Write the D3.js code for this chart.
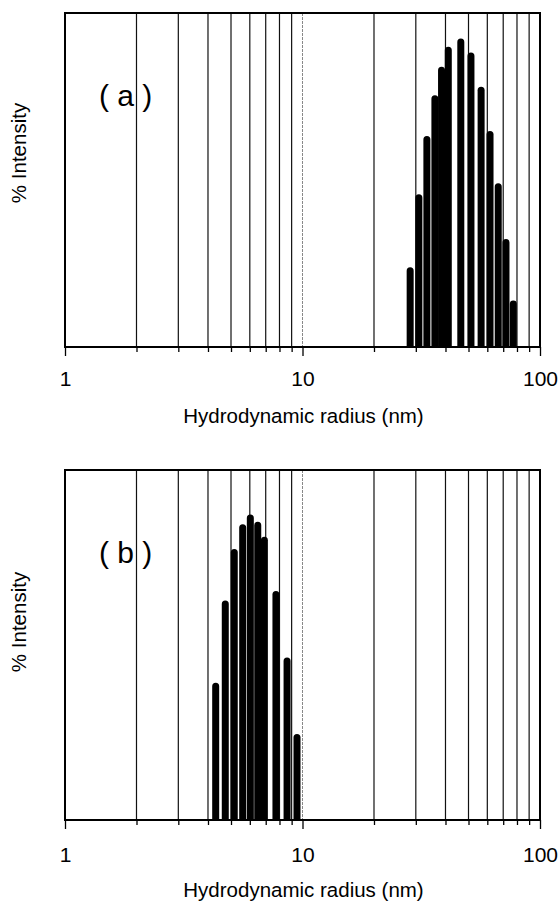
<!DOCTYPE html>
<html>
<head>
<meta charset="utf-8">
<script src="https://cdn.jsdelivr.net/npm/d3@7"></script>
<style>
  html, body { margin: 0; padding: 0; background: #fff; }
  svg { display: block; }
  text { font-family: "Liberation Sans", Arial, Helvetica, sans-serif; fill: #000; }
</style>
</head>
<body>
<svg id="chart" width="560" height="902"></svg>
<script>
// ---- data ----
const radiusA = [28.4, 30.9, 33.4, 36.1, 38.5, 41.1, 46.4, 51.2, 56.5, 61.6, 66.7, 71.9, 77.2];
const intensityA = [23.9, 45.7, 63.2, 75.4, 83.9, 89.9, 92.4, 88.2, 77.9, 64.7, 49.0, 32.3, 13.9];
const radiusB = [4.31, 4.73, 5.16, 5.60, 6.03, 6.48, 6.91, 7.73, 8.61, 9.48];
const intensityB = [39.2, 62.7, 77.4, 84.5, 87.3, 85.2, 80.9, 65.4, 46.4, 24.6];
const majorTicks = [1, 10, 100];
const majorLabels = ["1", "10", "100"];
const gridValues = [2, 3, 4, 5, 6, 7, 8, 9, 20, 30, 40, 50, 60, 70, 80, 90];
const panelLabels = ["( a )", "( b )"];
const xTitle = "Hydrodynamic radius (nm)";
const yTitle = "% Intensity";

const svg = d3.select("#chart");
const x = d3.scaleLog().domain([1, 100]).range([65, 540]);

const panels = [
  { top: 13, bottom: 347, radius: radiusA, intensity: intensityA, label: panelLabels[0], labelY: 106, yTitleY: 153 },
  { top: 470, bottom: 820, radius: radiusB, intensity: intensityB, label: panelLabels[1], labelY: 563, yTitleY: 622 }
];

const barW = 7;

panels.forEach((p, i) => {
  const y = d3.scaleLinear().domain([0, 100]).range([p.bottom, p.top]);
  const g = svg.append("g");

  // gridlines
  g.selectAll("line.grid").data(gridValues).join("line")
    .attr("x1", d => x(d)).attr("x2", d => x(d))
    .attr("y1", p.top).attr("y2", p.bottom)
    .attr("stroke", "#111").attr("stroke-width", 1.2);
  // line at 10 (lighter)
  g.append("line")
    .attr("x1", x(10)).attr("x2", x(10))
    .attr("y1", p.top).attr("y2", p.bottom)
    .attr("stroke", "#888").attr("stroke-width", 1)
    .attr("stroke-dasharray", "3,1");

  // bars with rounded tops
  const data = p.radius.map((r, k) => ({ r, v: p.intensity[k] }));
  g.selectAll("path.bar").data(data).join("path")
    .attr("d", d => {
      const cx = x(d.r), yt = y(d.v), yb = y(0), h = barW / 2;
      return `M${cx - h},${yb} L${cx - h},${yt + h} A${h},${h} 0 0 1 ${cx + h},${yt + h} L${cx + h},${yb} Z`;
    })
    .attr("fill", "#000");

  // frame
  g.append("rect")
    .attr("x", x(1)).attr("y", p.top)
    .attr("width", x(100) - x(1)).attr("height", p.bottom - p.top)
    .attr("fill", "none").attr("stroke", "#000").attr("stroke-width", 2);

  // x axis ticks (outward)
  const axis = d3.axisBottom(x)
    .tickValues(majorTicks.concat(gridValues))
    .tickFormat(d => { const k = majorTicks.indexOf(d); return k >= 0 ? majorLabels[k] : ""; })
    .tickSizeOuter(0);
  const ax = svg.append("g").attr("transform", `translate(0,${p.bottom})`).call(axis);
  ax.select(".domain").remove();
  ax.selectAll(".tick line")
    .attr("stroke", "#000").attr("stroke-width", 1.3)
    .attr("y2", d => majorTicks.includes(d) ? 9 : 5);
  ax.selectAll(".tick text")
    .attr("y", i === 0 ? 24 : 27)
    .attr("dy", "0.71em")
    .style("font-size", "21px")
    .style("font-family", "'Liberation Sans', Arial, sans-serif")
    .attr("fill", "#000");

  // x title
  svg.append("text")
    .attr("x", (x(1) + x(100)) / 2 + 1)
    .attr("y", p.bottom + (i === 0 ? 76 : 77))
    .attr("text-anchor", "middle")
    .style("font-size", "20.5px")
    .text(xTitle);

  // y title
  svg.append("text")
    .attr("transform", `translate(26,${p.yTitleY}) rotate(-90)`)
    .attr("text-anchor", "middle")
    .style("font-size", "20.5px")
    .text(yTitle);

  // panel label
  svg.append("text")
    .attr("x", 99).attr("y", p.labelY)
    .style("font-size", "30px")
    .text(p.label);
});
</script>
</body>
</html>
